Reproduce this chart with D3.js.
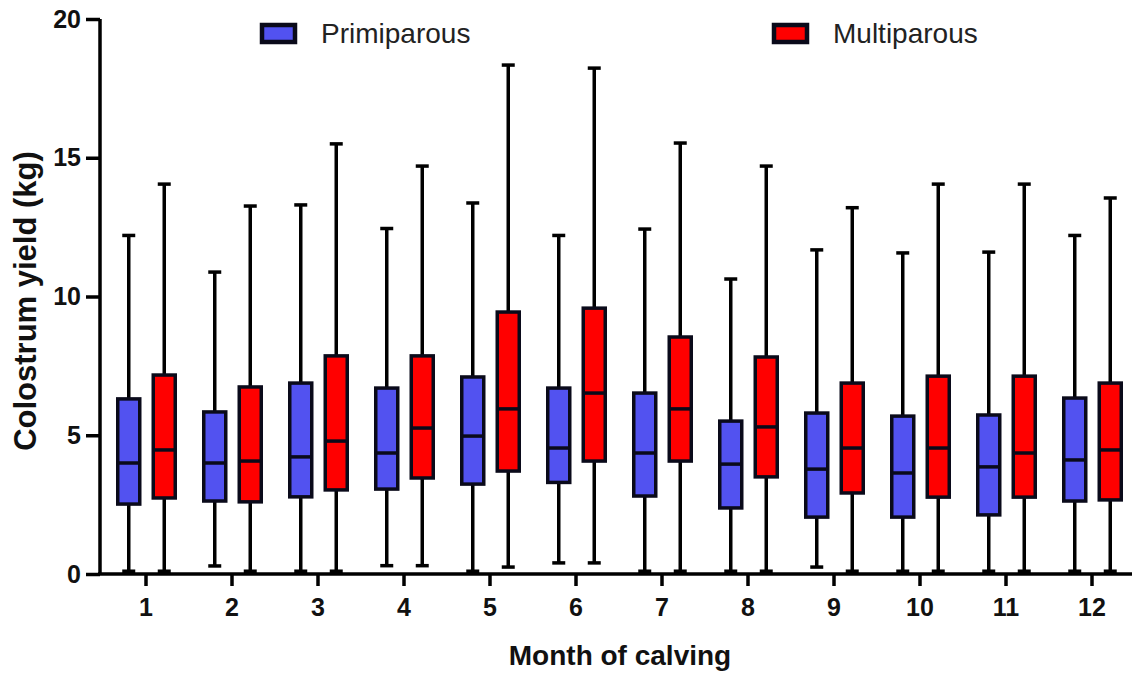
<!DOCTYPE html>
<html>
<head>
<style>
  body { margin: 0; background: #fff; }
  text { font-family: "Liberation Sans", Arial, sans-serif; }
</style>
</head>
<body>
<svg id="chart" width="1134" height="673"></svg>
<script src="https://d3js.org/d3.v7.min.js"></script>
<script>
    // month labels
    let months = ["1", "2", "3", "4", "5", "6", "7", "8", "9", "10", "11", "12"];
    let yTicks = [0, 5, 10, 15, 20];
    let seriesNames = ["Primiparous", "Multiparous"];

    // five-number summaries, one entry per month
    let primiMin    = [0.1, 0.29, 0.1, 0.3, 0.1, 0.4, 0.1, 0.1, 0.25, 0.1, 0.1, 0.1];
    let primiQ1     = [2.52, 2.63, 2.78, 3.06, 3.24, 3.3, 2.81, 2.38, 2.05, 2.05, 2.13, 2.63];
    let primiMedian = [4.0, 4.0, 4.22, 4.36, 4.97, 4.54, 4.36, 3.96, 3.78, 3.64, 3.86, 4.11];
    let primiQ3     = [6.31, 5.84, 6.88, 6.7, 7.1, 6.7, 6.52, 5.51, 5.8, 5.69, 5.73, 6.34];
    let primiMax    = [12.2, 10.88, 13.3, 12.45, 13.37, 12.2, 12.43, 10.63, 11.68, 11.57, 11.6, 12.2];

    let multiMin    = [0.1, 0.1, 0.1, 0.3, 0.25, 0.4, 0.1, 0.1, 0.1, 0.1, 0.1, 0.1];
    let multiQ1     = [2.74, 2.6, 3.03, 3.46, 3.71, 4.07, 4.07, 3.5, 2.92, 2.77, 2.77, 2.67];
    let multiMedian = [4.47, 4.07, 4.79, 5.26, 5.95, 6.52, 5.95, 5.3, 4.54, 4.54, 4.36, 4.47];
    let multiQ3     = [7.17, 6.74, 7.86, 7.86, 9.44, 9.58, 8.54, 7.82, 6.88, 7.13, 7.13, 6.88];
    let multiMax    = [14.05, 13.26, 15.5, 14.7, 18.34, 18.23, 15.53, 14.7, 13.2, 14.05, 14.05, 13.55];

    let colors = ["#5252f0", "#ff0000"];

    let svg = d3.select("#chart");

    let x = d3.scaleBand()
        .domain(months)
        .range([103, 1135]);
    let y = d3.scaleLinear()
        .domain([0, 20])
        .range([574, 19]);
    let sub = d3.scaleBand()
        .domain(seriesNames)
        .range([-35, 36]);

    // build box rows from the arrays
    let boxes = [];
    months.forEach((m, i) => {
        boxes.push({month: m, series: seriesNames[0], color: colors[0],
            min: primiMin[i], q1: primiQ1[i], med: primiMedian[i], q3: primiQ3[i], max: primiMax[i]});
        boxes.push({month: m, series: seriesNames[1], color: colors[1],
            min: multiMin[i], q1: multiQ1[i], med: multiMedian[i], q3: multiQ3[i], max: multiMax[i]});
    });

    let cx = (d) => x(d.month) + x.bandwidth() / 2 + sub(d.series) + sub.bandwidth() / 2;
    let boxW = 22;
    let capW = 13;

    let body = svg.append("g");
    let g = body.selectAll("g.box").data(boxes).enter().append("g").attr("class", "box");

    // whiskers
    g.append("line")
        .attr("x1", cx).attr("x2", cx)
        .attr("y1", (d) => y(d.min)).attr("y2", (d) => y(d.max))
        .attr("stroke", "#000").attr("stroke-width", 3.5);
    g.append("line")
        .attr("x1", (d) => cx(d) - capW / 2).attr("x2", (d) => cx(d) + capW / 2)
        .attr("y1", (d) => y(d.max)).attr("y2", (d) => y(d.max))
        .attr("stroke", "#000").attr("stroke-width", 3.5);
    g.append("line")
        .attr("x1", (d) => cx(d) - capW / 2).attr("x2", (d) => cx(d) + capW / 2)
        .attr("y1", (d) => y(d.min)).attr("y2", (d) => y(d.min))
        .attr("stroke", "#000").attr("stroke-width", 3.5);

    // boxes
    g.append("rect")
        .attr("x", (d) => cx(d) - boxW / 2)
        .attr("width", boxW)
        .attr("y", (d) => y(d.q3))
        .attr("height", (d) => y(d.q1) - y(d.q3))
        .attr("fill", (d) => d.color)
        .attr("stroke", "#0a0a1a").attr("stroke-width", 3.5);
    g.append("line")
        .attr("x1", (d) => cx(d) - boxW / 2).attr("x2", (d) => cx(d) + boxW / 2)
        .attr("y1", (d) => y(d.med)).attr("y2", (d) => y(d.med))
        .attr("stroke", "#0a0a1a").attr("stroke-width", 3.5);

    // y axis
    let yAxis = d3.axisLeft(y).tickValues(yTicks).tickSize(14).tickSizeOuter(0).tickPadding(5);
    let ya = svg.append("g").attr("transform", "translate(100,0)").call(yAxis);
    ya.select(".domain").attr("stroke", "#000").attr("stroke-width", 3.5)
        .attr("d", "M0," + (y(0) + 1) + "V" + y(20));
    ya.selectAll(".tick line").attr("stroke", "#000").attr("stroke-width", 3.5);
    ya.selectAll(".tick text")
        .style("font-size", "25px").style("font-weight", "bold").attr("fill", "#111")
        .attr("font-family", "Liberation Sans, Arial, sans-serif");

    // x axis
    let xAxis = d3.axisBottom(x).tickSize(12).tickSizeOuter(0).tickPadding(12);
    let xa = svg.append("g").attr("transform", "translate(0," + y(0) + ")").call(xAxis);
    xa.select(".domain").attr("stroke", "#000").attr("stroke-width", 3.5)
        .attr("d", "M98,0H1132");
    xa.selectAll(".tick line").attr("stroke", "#000").attr("stroke-width", 3.5);
    xa.selectAll(".tick text")
        .style("font-size", "25px").style("font-weight", "bold").attr("fill", "#111")
        .attr("font-family", "Liberation Sans, Arial, sans-serif");

    // axis titles
    svg.append("text")
        .attr("transform", "translate(36,301) rotate(-90)")
        .attr("text-anchor", "middle")
        .style("font-size", "31px").style("font-weight", "bold").attr("fill", "#111")
        .text("Colostrum yield (kg)");
    svg.append("text")
        .attr("x", 620).attr("y", 665)
        .attr("text-anchor", "middle")
        .style("font-size", "28px").style("font-weight", "bold").attr("fill", "#111")
        .text("Month of calving");

    // legend
    let legendX = [262, 774];
    let legend = svg.selectAll("g.legend").data(seriesNames).enter().append("g")
        .attr("class", "legend")
        .attr("transform", (d, i) => "translate(" + legendX[i] + ",25)");
    legend.append("rect")
        .attr("width", 33).attr("height", 17)
        .attr("fill", (d, i) => colors[i])
        .attr("stroke", "#0a0a1a").attr("stroke-width", 4.5);
    legend.append("text")
        .attr("x", 59).attr("y", 18)
        .style("font-size", "28px").attr("fill", "#222")
        .text((d) => d);
</script>
</body>
</html>
